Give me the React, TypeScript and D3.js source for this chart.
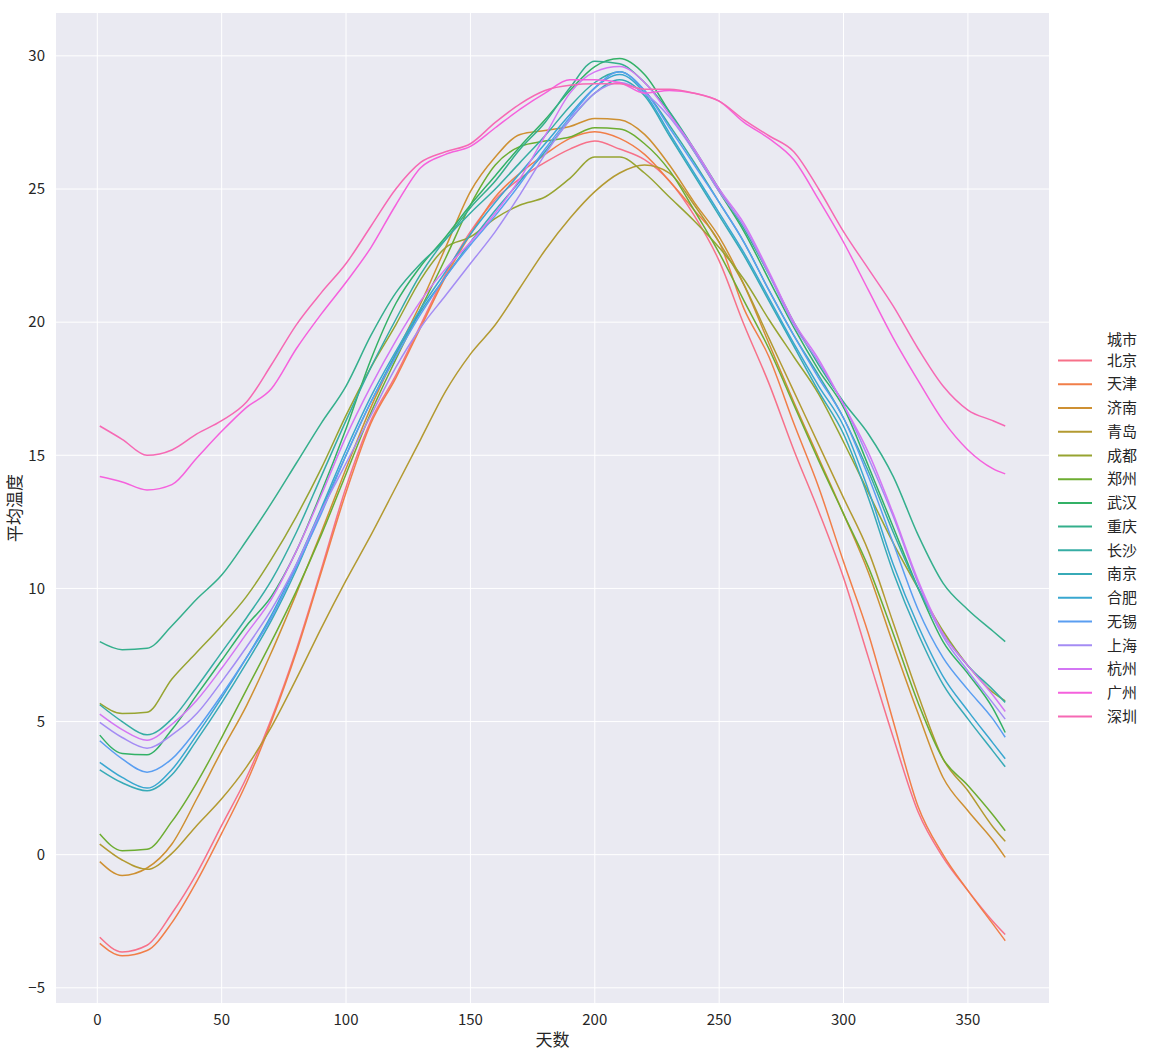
import * as d3 from "d3";

// day of year for every sample below
const days = [1, 10, 20, 30, 40, 50, 60, 70, 80, 90, 100, 110, 120, 130, 140, 150, 160, 170, 180, 190,
  200, 210, 220, 230, 240, 250, 260, 270, 280, 290, 300, 310, 320, 330, 340, 350, 360, 365];

const cities = ["北京", "天津", "济南", "青岛", "成都", "郑州", "武汉", "重庆", "长沙", "南京", "合肥", "无锡", "上海", "杭州", "广州", "深圳"];

const colors = ["#f77189", "#f17e48", "#ce9032", "#b39a31", "#97a431", "#6dad31", "#32b166", "#34af8c",
  "#36ada4", "#37aab7", "#39a7d0", "#5a9ef1", "#a48cf4", "#d376f4", "#f561dd", "#f669b4"];

const beijing = [-3.1, -3.65, -3.4, -2.2, -0.7, 1.1, 2.9, 5.1, 7.7, 10.7, 13.8, 16.3, 18.0, 19.9, 21.8, 23.4, 24.6, 25.4, 26.0, 26.5,
  26.8, 26.5, 26.1, 25.3, 24.0, 22.3, 19.9, 17.7, 15.2, 12.9, 10.4, 7.4, 4.4, 1.6, -0.1, -1.35, -2.5, -3.0];
const tianjin = [-3.33, -3.8, -3.6, -2.55, -1.0, 0.8, 2.7, 5.0, 7.6, 10.6, 13.6, 16.2, 17.9, 19.8, 21.7, 23.3, 24.7, 25.6, 26.3, 26.9,
  27.15, 26.9, 26.3, 25.3, 24.2, 23.0, 20.5, 18.7, 16.2, 13.8, 11.0, 8.3, 5.0, 1.8, 0.0, -1.35, -2.6, -3.23];
const jinan = [-0.26, -0.78, -0.5, 0.4, 2.1, 3.9, 5.6, 7.6, 9.8, 12.1, 14.5, 16.8, 18.8, 20.7, 22.8, 24.9, 26.2, 27.05, 27.2, 27.35,
  27.65, 27.6, 27.05, 25.9, 24.5, 23.2, 21.4, 19.2, 17.0, 14.9, 12.8, 10.6, 7.9, 5.3, 2.9, 1.65, 0.55, -0.1];
const qingdao = [0.4, -0.2, -0.55, 0.05, 1.1, 2.1, 3.3, 4.8, 6.6, 8.5, 10.3, 12.0, 13.8, 15.6, 17.4, 18.8, 19.9, 21.3, 22.7, 23.9,
  24.9, 25.6, 25.9, 25.6, 24.4, 23.0, 21.4, 19.4, 17.4, 15.4, 13.4, 11.4, 8.7, 6.0, 3.6, 2.4, 1.05, 0.5];
const chengdu = [5.68, 5.3, 5.35, 6.6, 7.6, 8.6, 9.7, 11.1, 12.7, 14.5, 16.5, 18.3, 19.9, 21.6, 22.8, 23.2, 23.9, 24.4, 24.7, 25.4,
  26.2, 26.2, 25.6, 24.7, 23.8, 22.8, 21.6, 20.1, 18.7, 17.3, 15.5, 13.6, 11.7, 10.0, 8.4, 7.1, 6.1, 5.78];
const zhengzhou = [0.78, 0.15, 0.2, 1.25, 2.7, 4.4, 6.2, 8.0, 9.9, 12.0, 14.3, 16.6, 18.6, 20.5, 22.4, 24.4, 25.9, 26.6, 26.8, 26.95,
  27.3, 27.25, 26.7, 25.7, 24.2, 22.6, 20.8, 19.0, 16.9, 14.8, 12.8, 10.8, 8.3, 5.7, 3.6, 2.6, 1.5, 0.9];
const wuhan = [4.49, 3.8, 3.75, 4.7, 6.0, 7.3, 8.6, 9.7, 11.4, 13.6, 16.0, 18.6, 20.7, 22.1, 23.2, 24.4, 25.5, 26.6, 27.6, 28.7,
  29.6, 29.9, 29.3, 27.9, 26.4, 24.9, 23.4, 21.6, 19.8, 18.2, 16.8, 14.6, 12.3, 10.0, 8.0, 6.8, 5.5, 4.59];
const chongqing = [8.0, 7.7, 7.75, 8.6, 9.6, 10.5, 11.8, 13.2, 14.7, 16.2, 17.6, 19.5, 21.1, 22.2, 23.1, 24.3, 25.3, 26.5, 27.5, 28.8,
  29.8, 29.7, 29.0, 27.9, 26.5, 25.0, 23.5, 21.8, 20.0, 18.4, 17.0, 15.8, 14.2, 12.0, 10.2, 9.2, 8.4, 8.0];
const changsha = [5.63, 5.0, 4.5, 5.1, 6.3, 7.6, 8.9, 10.3, 12.1, 14.2, 16.3, 18.3, 20.1, 21.8, 23.1, 24.1, 25.0, 26.0, 27.0, 28.1,
  29.0, 29.4, 28.7, 27.4, 26.0, 24.5, 23.0, 21.2, 19.5, 18.0, 16.4, 14.4, 12.1, 10.0, 8.3, 7.1, 6.2, 5.72];
const nanjing = [3.19, 2.7, 2.4, 3.0, 4.3, 5.7, 7.2, 8.8, 10.7, 12.9, 15.0, 17.0, 18.8, 20.4, 21.7, 23.0, 24.2, 25.3, 26.4, 27.6,
  28.6, 29.1, 28.5, 27.0, 25.5, 24.0, 22.5, 20.8, 19.1, 17.4, 15.8, 13.4, 10.6, 8.3, 6.4, 5.1, 3.9, 3.3];
const hefei = [3.47, 2.9, 2.5, 3.2, 4.5, 5.9, 7.4, 9.0, 10.9, 13.0, 15.2, 17.2, 18.9, 20.5, 21.9, 23.3, 24.5, 25.6, 26.7, 27.8,
  28.8, 29.3, 28.6, 27.1, 25.6, 24.1, 22.6, 20.9, 19.2, 17.6, 16.1, 13.7, 10.9, 8.6, 6.7, 5.4, 4.2, 3.6];
const wuxi = [4.28, 3.6, 3.1, 3.6, 4.7, 6.0, 7.4, 8.9, 10.8, 12.8, 15.0, 17.0, 18.7, 20.3, 21.7, 22.9, 24.0, 25.2, 26.5, 27.7,
  28.8, 29.4, 28.7, 27.3, 25.9, 24.5, 23.0, 21.2, 19.5, 17.9, 16.4, 14.2, 11.7, 9.2, 7.4, 6.2, 5.1, 4.41];
const shanghai = [4.97, 4.4, 4.0, 4.5, 5.3, 6.5, 7.8, 9.2, 10.9, 12.9, 14.7, 16.5, 18.3, 19.8, 21.0, 22.2, 23.4, 24.8, 26.3, 27.6,
  28.6, 29.0, 28.6, 27.7, 26.4, 24.9, 23.6, 21.8, 19.9, 18.5, 16.9, 14.9, 12.7, 10.2, 8.2, 6.9, 5.7, 5.09];
const hangzhou = [5.28, 4.7, 4.3, 4.9, 5.8, 7.0, 8.3, 9.6, 11.4, 13.5, 15.7, 17.6, 19.3, 20.8, 22.0, 23.0, 24.1, 25.4, 27.0, 28.6,
  29.4, 29.6, 29.0, 27.8, 26.5, 25.0, 23.7, 21.9, 20.0, 18.6, 16.9, 15.1, 12.8, 10.3, 8.3, 7.1, 6.0, 5.38];
const guangzhou = [14.2, 14.0, 13.7, 13.9, 14.9, 15.9, 16.8, 17.5, 19.0, 20.3, 21.5, 22.8, 24.4, 25.8, 26.3, 26.6, 27.3, 28.0, 28.6, 29.1,
  29.1, 29.0, 28.6, 28.7, 28.6, 28.3, 27.5, 26.9, 26.1, 24.6, 23.0, 21.2, 19.4, 17.8, 16.3, 15.2, 14.5, 14.3];
const shenzhen = [16.1, 15.6, 15.0, 15.2, 15.8, 16.3, 17.0, 18.4, 19.9, 21.1, 22.2, 23.6, 25.0, 26.0, 26.4, 26.7, 27.5, 28.2, 28.7, 28.9,
  28.95, 28.95, 28.75, 28.75, 28.6, 28.3, 27.6, 27.0, 26.4, 25.0, 23.4, 22.0, 20.6, 19.0, 17.6, 16.7, 16.3, 16.1];

const series = [beijing, tianjin, jinan, qingdao, chengdu, zhengzhou, wuhan, chongqing,
  changsha, nanjing, hefei, wuxi, shanghai, hangzhou, guangzhou, shenzhen];

const xTicks = [0, 50, 100, 150, 200, 250, 300, 350];
const yTicks = [-5, 0, 5, 10, 15, 20, 25, 30];

const width = 1153;
const height = 1055;
const left = 56, right = 1049, top = 13, bottom = 1003;
const font = "'Noto Sans CJK SC', 'Noto Sans', sans-serif";

export default function App() {
  const x = d3.scaleLinear().domain([-16.6, 382.6]).range([left, right]);
  const y = d3.scaleLinear().domain([-5.57, 31.61]).range([bottom, top]);

  const line = d3.line<number>()
    .x((_, i) => x(days[i]))
    .y(d => y(d))
    .curve(d3.curveMonotoneX);

  return (
    <svg width={width} height={height} style={{ position: "absolute", left: 0, top: 0 }} fontFamily={font}>
      <rect x={0} y={0} width={width} height={height} fill="#fff" />
      <rect x={left} y={top} width={right - left} height={bottom - top} fill="#eaeaf2" />

      {xTicks.map(t => (
        <g key={"x" + t}>
          <line x1={x(t)} x2={x(t)} y1={top} y2={bottom} stroke="#fff" strokeWidth={1} />
          <text x={x(t)} y={bottom + 22} textAnchor="middle" fontSize={15} fill="#262626">{t}</text>
        </g>
      ))}
      {yTicks.map(t => (
        <g key={"y" + t}>
          <line x1={left} x2={right} y1={y(t)} y2={y(t)} stroke="#fff" strokeWidth={1} />
          <text x={left - 11} y={y(t)} dy="0.35em" textAnchor="end" fontSize={15} fill="#262626">
            {t < 0 ? "\u2212" + Math.abs(t) : t}
          </text>
        </g>
      ))}

      <g>
        {series.map((s, i) => (
          <path key={cities[i]} d={line(s) ?? ""} fill="none" stroke={colors[i]} strokeWidth={1.5} />
        ))}
      </g>

      <text x={(left + right) / 2} y={1046} textAnchor="middle" fontSize={17} fill="#262626">天数</text>
      <text transform={`translate(21, ${(top + bottom) / 2}) rotate(-90)`} textAnchor="middle" fontSize={17} fill="#262626">平均温度</text>

      <g>
        <text x={1107} y={339.5} dy="0.35em" fontSize={15} fill="#262626">城市</text>
        {cities.map((c, i) => (
          <g key={"l" + c}>
            <line x1={1058} x2={1092} y1={360.5 + i * 23.73} y2={360.5 + i * 23.73} stroke={colors[i]} strokeWidth={2} />
            <text x={1107} y={360.5 + i * 23.73} dy="0.35em" fontSize={15} fill="#262626">{c}</text>
          </g>
        ))}
      </g>
    </svg>
  );
}
